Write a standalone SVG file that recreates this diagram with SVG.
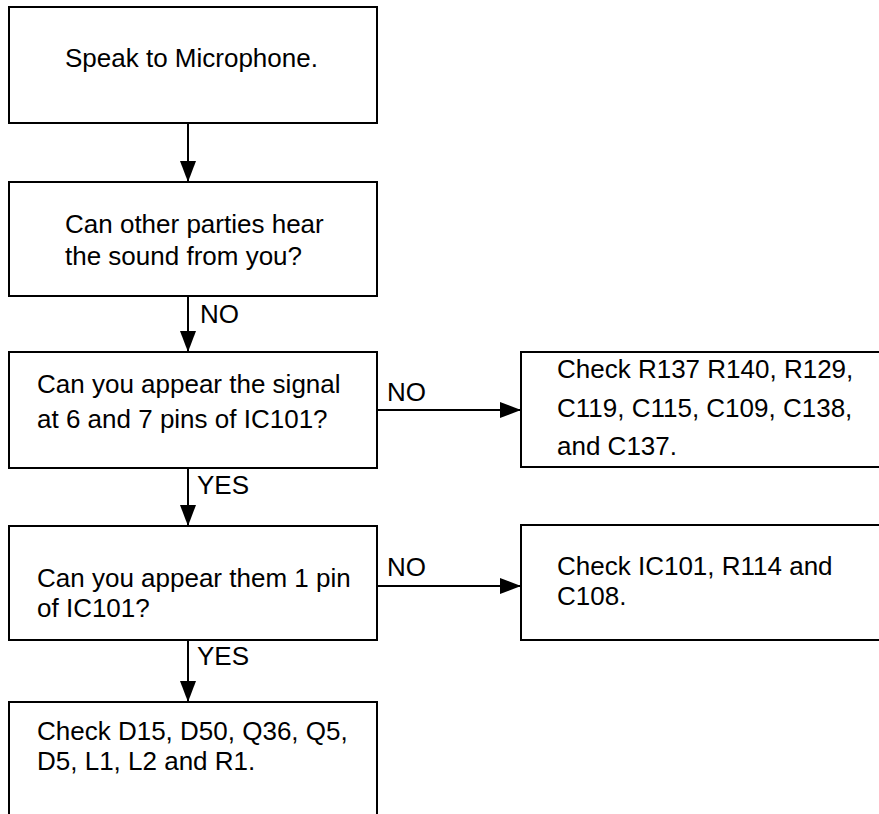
<svg xmlns="http://www.w3.org/2000/svg" width="879" height="814" viewBox="0 0 879 814">
<defs>
<style>
.box{fill:#fff;stroke:#000;stroke-width:2}
.t{font-family:"Liberation Sans",Arial,sans-serif;font-size:26px;fill:#000}
.c{stroke:#000;stroke-width:2;fill:none}
</style>
<marker id="ah" markerUnits="userSpaceOnUse" markerWidth="22" markerHeight="18" refX="21" refY="8" orient="auto">
<path d="M0,0 L21,8 L0,16 Z" fill="#000"/>
</marker>
</defs>
<rect width="879" height="814" fill="#fff"/>
<g id="n1"><rect class="box" x="9" y="7" width="368" height="116"/><text class="t" x="65" y="67">Speak to Microphone.</text></g>
<g id="n2"><rect class="box" x="9" y="182" width="368" height="114"/><text class="t" x="65" y="233">Can other parties hear</text><text class="t" x="65" y="265">the sound from you?</text></g>
<g id="n3"><rect class="box" x="9" y="352" width="368" height="116"/><text class="t" x="37" y="393">Can you appear the signal</text><text class="t" x="37" y="428">at 6 and 7 pins of IC101?</text></g>
<g id="n4"><rect class="box" x="521" y="352" width="380" height="115"/><text class="t" x="557" y="378">Check R137 R140, R129,</text><text class="t" x="557" y="417">C119, C115, C109, C138,</text><text class="t" x="557" y="455">and C137.</text></g>
<g id="n5"><rect class="box" x="9" y="526" width="368" height="114"/><text class="t" x="37" y="587">Can you appear them 1 pin</text><text class="t" x="37" y="617">of IC101?</text></g>
<g id="n6"><rect class="box" x="521" y="525" width="380" height="115"/><text class="t" x="557" y="575">Check IC101, R114 and</text><text class="t" x="557" y="605">C108.</text></g>
<g id="n7"><rect class="box" x="9" y="702" width="368" height="130"/><text class="t" x="37" y="740">Check D15, D50, Q36, Q5,</text><text class="t" x="37" y="770">D5, L1, L2 and R1.</text></g>
<g id="connectors">
<line class="c" x1="188" y1="123" x2="188" y2="182" marker-end="url(#ah)"/>
<line class="c" x1="188" y1="296" x2="188" y2="352" marker-end="url(#ah)"/>
<text class="t" x="200" y="323">NO</text>
<line class="c" x1="377" y1="410" x2="521" y2="410" marker-end="url(#ah)"/>
<text class="t" x="387" y="401">NO</text>
<line class="c" x1="188" y1="468" x2="188" y2="526" marker-end="url(#ah)"/>
<text class="t" x="197" y="494">YES</text>
<line class="c" x1="377" y1="586" x2="521" y2="586" marker-end="url(#ah)"/>
<text class="t" x="387" y="576">NO</text>
<line class="c" x1="188" y1="640" x2="188" y2="702" marker-end="url(#ah)"/>
<text class="t" x="197" y="665">YES</text>
</g>
</svg>
